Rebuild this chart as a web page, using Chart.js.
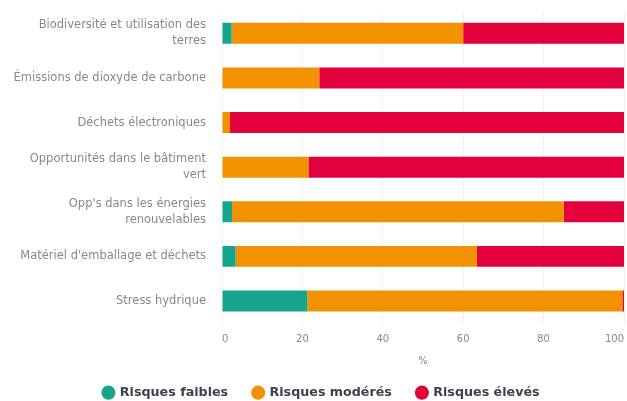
<!DOCTYPE html>
<html>
<head>
<meta charset="utf-8">
<script src="https://cdn.jsdelivr.net/npm/chart.js@4.4.0/dist/chart.umd.min.js"></script>
<style>
  html, body { margin: 0; padding: 0; background: #fff; }
  #wrap { width: 627px; height: 401px; position: relative; }
</style>
</head>
<body>
<div id="wrap"><canvas id="riskChart"></canvas></div>
<script>
// categories (multi-line labels kept as arrays)
const categories = [
  ['Biodiversité et utilisation des', 'terres'],
  'Émissions de dioxyde de carbone',
  'Déchets électroniques',
  ['Opportunités dans le bâtiment', 'vert'],
  ["Opp's dans les énergies", 'renouvelables'],
  "Matériel d'emballage et déchets",
  'Stress hydrique'
];

// % per risk level
const risquesFaibles = [2.4, 0, 0, 0, 2.5, 3.4, 21.2];
const risquesModeres = [57.6, 24.2, 2, 21.5, 82.5, 60, 78.4];
const risquesEleves = [40, 75.8, 98, 78.5, 15, 36.6, 0.4];

const seriesNames = ['Risques faibles', 'Risques modérés', 'Risques élevés'];
const xTicks = [0, 20, 40, 60, 80, 100];

const colors = ['#15a58d', '#f39200', '#e3003d'];

const tickFont = { family: 'DejaVu Sans', size: 10 };
const labelFont = { family: 'DejaVu Sans', size: 11.5, lineHeight: 1.4 };

// legend sits a bit right of the canvas centre in the original
const shiftLegend = {
  id: 'shiftLegend',
  afterLayout(chart) { chart.legend.left += 15; }
};

var ctx = document.getElementById('riskChart').getContext('2d');

var myChart = new Chart(ctx, {
  type: 'bar',
  data: {
    labels: categories,
    datasets: [
      { label: seriesNames[0], data: risquesFaibles, backgroundColor: colors[0] },
      { label: seriesNames[1], data: risquesModeres, backgroundColor: colors[1] },
      { label: seriesNames[2], data: risquesEleves, backgroundColor: colors[2] }
    ]
  },
  options: {
    indexAxis: 'y',
    responsive: true,
    maintainAspectRatio: false,
    animation: false,
    layout: { padding: { top: 11, right: 3, left: 4, bottom: -8 } },
    datasets: { bar: { barPercentage: 0.47, categoryPercentage: 1 } },
    scales: {
      x: {
        stacked: true,
        min: 0,
        max: 100,
        afterBuildTicks: axis => { axis.ticks = xTicks.map(v => ({ value: v })); },
        afterFit: axis => { axis.paddingLeft = 0; axis.paddingRight = 0; },
        grid: { color: '#f2f2f2', drawTicks: false },
        border: { display: false },
        ticks: { color: '#888', font: tickFont, padding: 10, align: 'inner' },
        title: { display: true, text: '%', color: '#888', font: tickFont, padding: { top: 0, bottom: -6 } }
      },
      y: {
        stacked: true,
        afterFit: axis => { axis.width = 218; axis.paddingTop = 0; axis.paddingBottom = 0; },
        grid: { display: false },
        border: { display: false },
        ticks: { color: '#888', font: labelFont, padding: 8 }
      }
    },
    plugins: {
      legend: {
        position: 'bottom',
        labels: {
          usePointStyle: true,
          pointStyle: 'circle',
          boxWidth: 10,
          boxHeight: 10,
          padding: 25,
          color: '#3d4250',
          font: { family: 'DejaVu Sans', size: 12.7, weight: 'bold' }
        }
      },
      tooltip: { enabled: false }
    }
  },
  plugins: [shiftLegend]
});
</script>
</body>
</html>
